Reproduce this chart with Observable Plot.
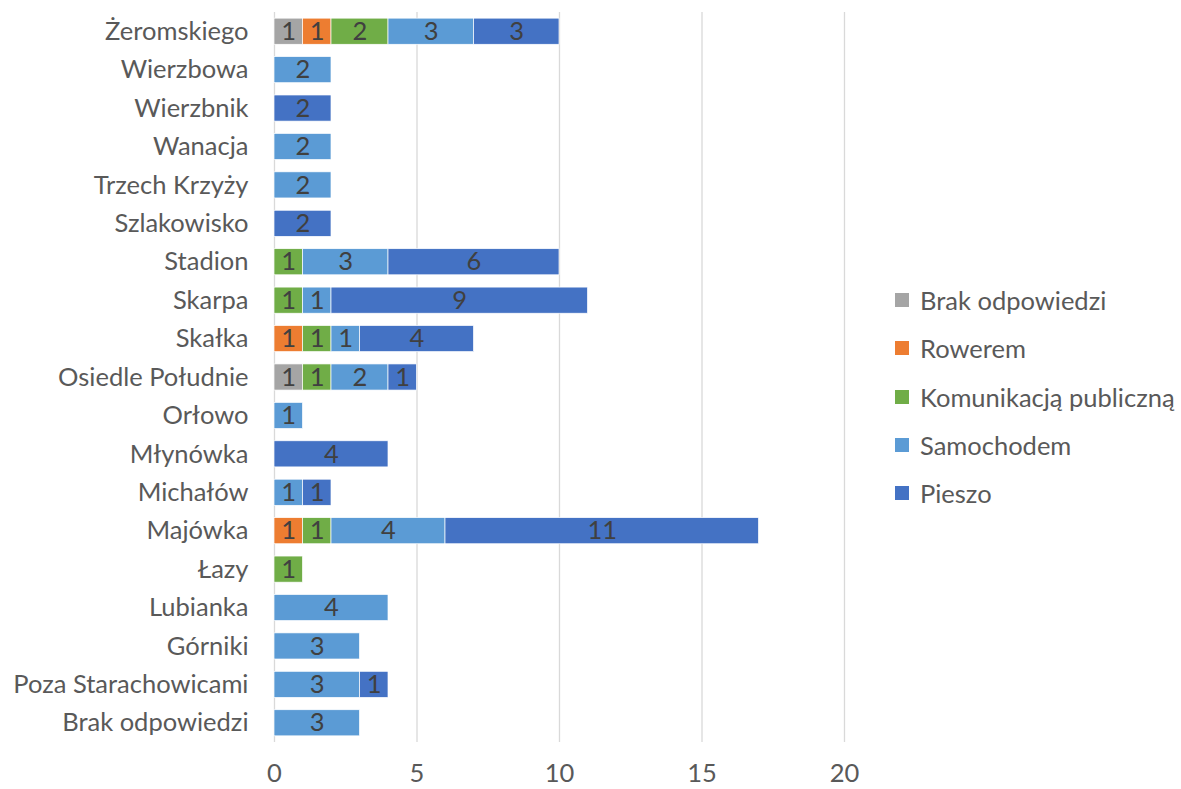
<!DOCTYPE html>
<html>
<head>
<meta charset="utf-8">
<script src="https://cdn.jsdelivr.net/npm/d3@7"></script>
<script src="https://cdn.jsdelivr.net/npm/@observablehq/plot@0.6"></script>
<style>
  html, body { margin: 0; padding: 0; background: #fff; }
  #wrap { position: relative; width: 1181px; height: 789px; font-family: Lato, "Open Sans", sans-serif; }
  #legend { position: absolute; left: 895px; top: 276px; }
  .item { display: flex; align-items: center; height: 48.3px; font-size: 25.5px; color: #595959; }
  .sw { width: 14px; height: 14px; margin-right: 11px; }
</style>
</head>
<body>
<div id="wrap"><div id="chart"></div><div id="legend"></div></div>
<script>
const categories = ["Żeromskiego","Wierzbowa","Wierzbnik","Wanacja","Trzech Krzyży","Szlakowisko","Stadion","Skarpa","Skałka","Osiedle Południe","Orłowo","Młynówka","Michałów","Majówka","Łazy","Lubianka","Górniki","Poza Starachowicami","Brak odpowiedzi"];
const series = ["Brak odpowiedzi","Rowerem","Komunikacją publiczną","Samochodem","Pieszo"];
const colors = ["#A5A5A5","#ED7D31","#70AD47","#5B9BD5","#4472C4"];
const brakOdpowiedzi = [1,0,0,0,0,0,0,0,0,1,0,0,0,0,0,0,0,0,0];
const rowerem        = [1,0,0,0,0,0,0,0,1,0,0,0,0,1,0,0,0,0,0];
const komunikacja    = [2,0,0,0,0,0,1,1,1,1,0,0,0,1,1,0,0,0,0];
const samochodem     = [3,2,0,2,2,0,3,1,1,2,1,0,1,4,0,4,3,3,3];
const pieszo         = [3,0,2,0,0,2,6,9,4,1,0,4,1,11,0,0,0,1,0];
const xTicks = [0,5,10,15,20];

const seriesValues = [brakOdpowiedzi, rowerem, komunikacja, samochodem, pieszo];
const rows = [];
categories.forEach((c, i) => {
  series.forEach((s, j) => {
    const v = seriesValues[j][i];
    if (v > 0) rows.push({category: c, series: s, value: v});
  });
});

const chart = Plot.plot({
  width: 880,
  height: 789,
  marginTop: 12,
  marginBottom: 47,
  marginLeft: 274,
  marginRight: 36,
  style: {fontFamily: "Lato, 'Open Sans', sans-serif", background: "#fff"},
  x: {domain: [0, 20], ticks: xTicks, grid: false, label: null},
  y: {domain: categories, paddingInner: 0.32, paddingOuter: 0.16, round: false, label: null},
  color: {domain: series, range: colors},
  marks: [
    Plot.ruleX(xTicks, {stroke: "#D9D9D9", strokeWidth: 1.3}),
    Plot.barX(rows, Plot.stackX({x: "value", y: "category", fill: "series", z: "series", stroke: "#fff", strokeWidth: 0.7})),
    Plot.text(rows, Plot.stackX({x: "value", y: "category", z: "series", text: "value", fill: "#404040", fontSize: 25.5})),
    Plot.axisX({ticks: xTicks, tickSize: 0, tickPadding: 21, fontSize: 25.5, color: "#595959", label: null}),
    Plot.axisY({tickSize: 0, tickPadding: 26, fontSize: 25.5, color: "#595959", label: null})
  ]
});
document.getElementById("chart").appendChild(chart);

const legend = document.getElementById("legend");
series.forEach((s, i) => {
  const item = document.createElement("div");
  item.className = "item";
  const sw = document.createElement("div");
  sw.className = "sw";
  sw.style.background = colors[i];
  const t = document.createElement("span");
  t.textContent = s;
  item.appendChild(sw);
  item.appendChild(t);
  legend.appendChild(item);
});
</script>
</body>
</html>
